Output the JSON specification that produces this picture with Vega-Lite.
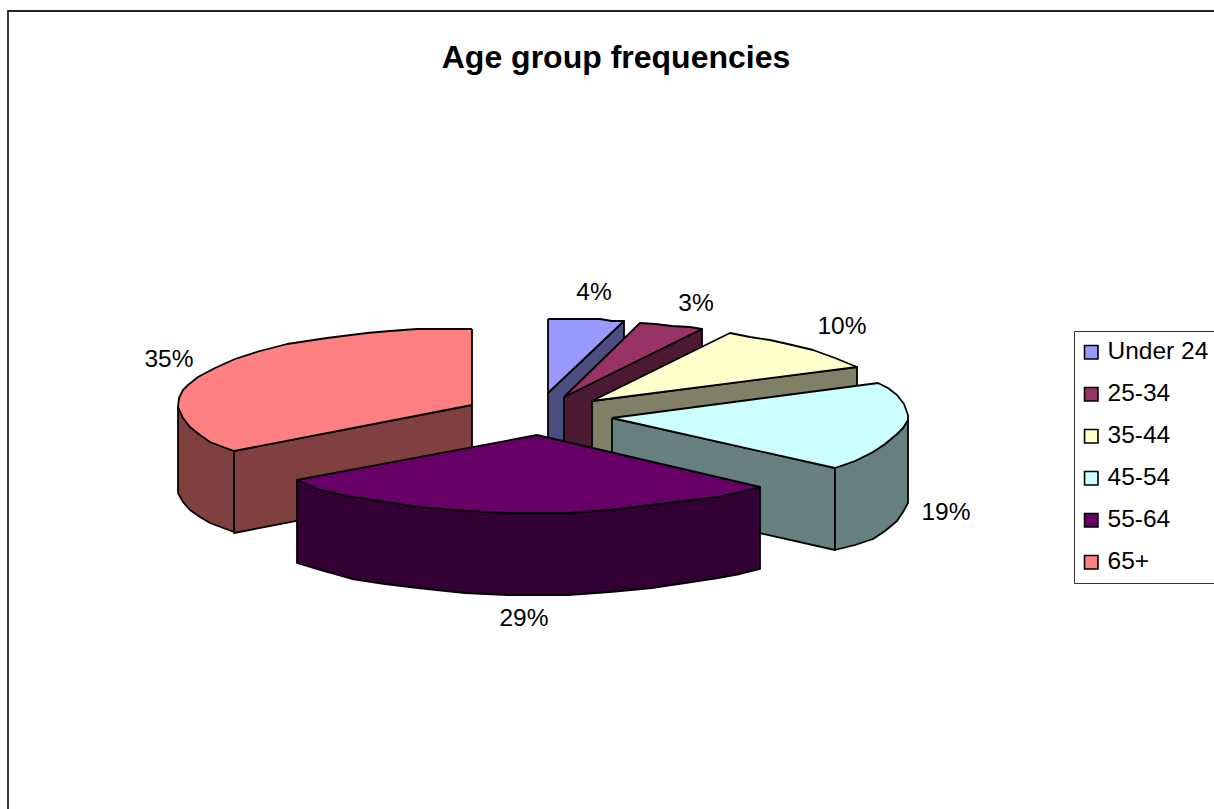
{
"$schema":"https://vega.github.io/schema/vega-lite/v6.json",
"width":1214,"height":809,"padding":0,"autosize":{"type":"none"},"background":"white",
"config":{"view":{"stroke":null},"font":"Liberation Sans"},
"title":{"text":"Age group frequencies","font":"Liberation Sans","fontSize":32,"fontWeight":"bold","color":"black","anchor":"middle","dx":9,"dy":100,"offset":0,"baseline":"alphabetic"},
"datasets":{
"frame":[{"n":1,"x":8,"y":809},{"n":2,"x":8,"y":11},{"n":3,"x":1214,"y":11}],
"labels":[{"age":"Under 24","value":0.04,"x":594,"y":293},{"age":"25-34","value":0.03,"x":696,"y":304},{"age":"35-44","value":0.10,"x":842,"y":327},{"age":"45-54","value":0.19,"x":946,"y":513},{"age":"55-64","value":0.29,"x":524,"y":619},{"age":"65+","value":0.35,"x":169,"y":360}],
"faces":[
{"poly":"a1","face":"Under 24 side","n":1,"x":548,"y":393},{"poly":"a1","face":"Under 24 side","n":2,"x":624,"y":321},{"poly":"a1","face":"Under 24 side","n":3,"x":624,"y":398},{"poly":"a1","face":"Under 24 side","n":4,"x":548,"y":475},{"poly":"a1","face":"Under 24 side","n":5,"x":548,"y":393},
{"poly":"a2","face":"Under 24","n":1,"x":548,"y":319},{"poly":"a2","face":"Under 24","n":2,"x":575,"y":319},{"poly":"a2","face":"Under 24","n":3,"x":600,"y":319},{"poly":"a2","face":"Under 24","n":4,"x":612,"y":321},{"poly":"a2","face":"Under 24","n":5,"x":624,"y":321},{"poly":"a2","face":"Under 24","n":6,"x":548,"y":393},{"poly":"a2","face":"Under 24","n":7,"x":548,"y":319},
{"poly":"b1","face":"25-34 side","n":1,"x":564,"y":397},{"poly":"b1","face":"25-34 side","n":2,"x":702,"y":329},{"poly":"b1","face":"25-34 side","n":3,"x":702,"y":409},{"poly":"b1","face":"25-34 side","n":4,"x":564,"y":478},{"poly":"b1","face":"25-34 side","n":5,"x":564,"y":397},
{"poly":"b2","face":"25-34","n":1,"x":564,"y":397},{"poly":"b2","face":"25-34","n":2,"x":640,"y":323},{"poly":"b2","face":"25-34","n":3,"x":655,"y":324},{"poly":"b2","face":"25-34","n":4,"x":672,"y":326},{"poly":"b2","face":"25-34","n":5,"x":690,"y":327},{"poly":"b2","face":"25-34","n":6,"x":702,"y":329},{"poly":"b2","face":"25-34","n":7,"x":564,"y":397},
{"poly":"c1","face":"35-44 side","n":1,"x":592,"y":401},{"poly":"c1","face":"35-44 side","n":2,"x":857,"y":367},{"poly":"c1","face":"35-44 side","n":3,"x":857,"y":449},{"poly":"c1","face":"35-44 side","n":4,"x":592,"y":483},{"poly":"c1","face":"35-44 side","n":5,"x":592,"y":401},
{"poly":"c2","face":"35-44","n":1,"x":592,"y":401},{"poly":"c2","face":"35-44","n":2,"x":730,"y":333},{"poly":"c2","face":"35-44","n":3,"x":750,"y":337},{"poly":"c2","face":"35-44","n":4,"x":770,"y":340},{"poly":"c2","face":"35-44","n":5,"x":792,"y":345},{"poly":"c2","face":"35-44","n":6,"x":813,"y":350},{"poly":"c2","face":"35-44","n":7,"x":835,"y":358},{"poly":"c2","face":"35-44","n":8,"x":857,"y":367},{"poly":"c2","face":"35-44","n":9,"x":592,"y":401},
{"poly":"d1","face":"45-54 side","n":1,"x":612,"y":418},{"poly":"d1","face":"45-54 side","n":2,"x":835,"y":468},{"poly":"d1","face":"45-54 side","n":3,"x":835,"y":550},{"poly":"d1","face":"45-54 side","n":4,"x":612,"y":500},{"poly":"d1","face":"45-54 side","n":5,"x":612,"y":418},
{"poly":"d2","face":"45-54 side","n":1,"x":835,"y":468},{"poly":"d2","face":"45-54 side","n":2,"x":855,"y":461},{"poly":"d2","face":"45-54 side","n":3,"x":873,"y":452},{"poly":"d2","face":"45-54 side","n":4,"x":885,"y":444},{"poly":"d2","face":"45-54 side","n":5,"x":897,"y":434},{"poly":"d2","face":"45-54 side","n":6,"x":903,"y":428},{"poly":"d2","face":"45-54 side","n":7,"x":908,"y":420},{"poly":"d2","face":"45-54 side","n":8,"x":908,"y":503},{"poly":"d2","face":"45-54 side","n":9,"x":903,"y":512},{"poly":"d2","face":"45-54 side","n":10,"x":897,"y":521},{"poly":"d2","face":"45-54 side","n":11,"x":885,"y":531},{"poly":"d2","face":"45-54 side","n":12,"x":873,"y":539},{"poly":"d2","face":"45-54 side","n":13,"x":855,"y":545},{"poly":"d2","face":"45-54 side","n":14,"x":835,"y":550},{"poly":"d2","face":"45-54 side","n":15,"x":835,"y":468},
{"poly":"d3","face":"45-54","n":1,"x":612,"y":418},{"poly":"d3","face":"45-54","n":2,"x":878,"y":383},{"poly":"d3","face":"45-54","n":3,"x":888,"y":388},{"poly":"d3","face":"45-54","n":4,"x":897,"y":395},{"poly":"d3","face":"45-54","n":5,"x":904,"y":404},{"poly":"d3","face":"45-54","n":6,"x":908,"y":415},{"poly":"d3","face":"45-54","n":7,"x":908,"y":420},{"poly":"d3","face":"45-54","n":8,"x":903,"y":428},{"poly":"d3","face":"45-54","n":9,"x":897,"y":434},{"poly":"d3","face":"45-54","n":10,"x":885,"y":444},{"poly":"d3","face":"45-54","n":11,"x":873,"y":452},{"poly":"d3","face":"45-54","n":12,"x":855,"y":461},{"poly":"d3","face":"45-54","n":13,"x":835,"y":468},{"poly":"d3","face":"45-54","n":14,"x":612,"y":418},
{"poly":"f1","face":"65+ side","n":1,"x":234,"y":451},{"poly":"f1","face":"65+ side","n":2,"x":472,"y":405},{"poly":"f1","face":"65+ side","n":3,"x":472,"y":487},{"poly":"f1","face":"65+ side","n":4,"x":234,"y":533},{"poly":"f1","face":"65+ side","n":5,"x":234,"y":451},
{"poly":"f2","face":"65+ side","n":1,"x":178,"y":407},{"poly":"f2","face":"65+ side","n":2,"x":178,"y":493},{"poly":"f2","face":"65+ side","n":3,"x":183,"y":502},{"poly":"f2","face":"65+ side","n":4,"x":190,"y":510},{"poly":"f2","face":"65+ side","n":5,"x":200,"y":517},{"poly":"f2","face":"65+ side","n":6,"x":210,"y":523},{"poly":"f2","face":"65+ side","n":7,"x":234,"y":532},{"poly":"f2","face":"65+ side","n":8,"x":234,"y":451},{"poly":"f2","face":"65+ side","n":9,"x":210,"y":442},{"poly":"f2","face":"65+ side","n":10,"x":190,"y":427},{"poly":"f2","face":"65+ side","n":11,"x":183,"y":418},{"poly":"f2","face":"65+ side","n":12,"x":178,"y":407},
{"poly":"f3","face":"65+","n":1,"x":472,"y":329},{"poly":"f3","face":"65+","n":2,"x":417,"y":329},{"poly":"f3","face":"65+","n":3,"x":390,"y":331},{"poly":"f3","face":"65+","n":4,"x":367,"y":333},{"poly":"f3","face":"65+","n":5,"x":327,"y":338},{"poly":"f3","face":"65+","n":6,"x":287,"y":344},{"poly":"f3","face":"65+","n":7,"x":260,"y":351},{"poly":"f3","face":"65+","n":8,"x":235,"y":359},{"poly":"f3","face":"65+","n":9,"x":215,"y":368},{"poly":"f3","face":"65+","n":10,"x":198,"y":377},{"poly":"f3","face":"65+","n":11,"x":188,"y":385},{"poly":"f3","face":"65+","n":12,"x":183,"y":390},{"poly":"f3","face":"65+","n":13,"x":179,"y":398},{"poly":"f3","face":"65+","n":14,"x":178,"y":407},{"poly":"f3","face":"65+","n":15,"x":183,"y":418},{"poly":"f3","face":"65+","n":16,"x":190,"y":427},{"poly":"f3","face":"65+","n":17,"x":200,"y":435},{"poly":"f3","face":"65+","n":18,"x":210,"y":442},{"poly":"f3","face":"65+","n":19,"x":234,"y":451},{"poly":"f3","face":"65+","n":20,"x":472,"y":405},{"poly":"f3","face":"65+","n":21,"x":472,"y":329},
{"poly":"e1","face":"55-64 side","n":1,"x":297,"y":480},{"poly":"e1","face":"55-64 side","n":2,"x":297,"y":563},{"poly":"e1","face":"55-64 side","n":3,"x":320,"y":570},{"poly":"e1","face":"55-64 side","n":4,"x":352,"y":579},{"poly":"e1","face":"55-64 side","n":5,"x":385,"y":584},{"poly":"e1","face":"55-64 side","n":6,"x":418,"y":588},{"poly":"e1","face":"55-64 side","n":7,"x":465,"y":593},{"poly":"e1","face":"55-64 side","n":8,"x":508,"y":595},{"poly":"e1","face":"55-64 side","n":9,"x":568,"y":595},{"poly":"e1","face":"55-64 side","n":10,"x":610,"y":592},{"poly":"e1","face":"55-64 side","n":11,"x":652,"y":588},{"poly":"e1","face":"55-64 side","n":12,"x":685,"y":583},{"poly":"e1","face":"55-64 side","n":13,"x":718,"y":578},{"poly":"e1","face":"55-64 side","n":14,"x":740,"y":574},{"poly":"e1","face":"55-64 side","n":15,"x":760,"y":569},{"poly":"e1","face":"55-64 side","n":16,"x":760,"y":487},{"poly":"e1","face":"55-64 side","n":17,"x":652,"y":505},{"poly":"e1","face":"55-64 side","n":18,"x":508,"y":513},{"poly":"e1","face":"55-64 side","n":19,"x":297,"y":480},
{"poly":"e2","face":"55-64","n":1,"x":537,"y":435},{"poly":"e2","face":"55-64","n":2,"x":760,"y":487},{"poly":"e2","face":"55-64","n":3,"x":740,"y":492},{"poly":"e2","face":"55-64","n":4,"x":718,"y":497},{"poly":"e2","face":"55-64","n":5,"x":685,"y":501},{"poly":"e2","face":"55-64","n":6,"x":652,"y":505},{"poly":"e2","face":"55-64","n":7,"x":610,"y":510},{"poly":"e2","face":"55-64","n":8,"x":568,"y":513},{"poly":"e2","face":"55-64","n":9,"x":508,"y":513},{"poly":"e2","face":"55-64","n":10,"x":465,"y":511},{"poly":"e2","face":"55-64","n":11,"x":418,"y":507},{"poly":"e2","face":"55-64","n":12,"x":385,"y":502},{"poly":"e2","face":"55-64","n":13,"x":352,"y":497},{"poly":"e2","face":"55-64","n":14,"x":320,"y":490},{"poly":"e2","face":"55-64","n":15,"x":297,"y":480},{"poly":"e2","face":"55-64","n":16,"x":537,"y":435}
]},
"layer":[
{"data":{"name":"frame"},"mark":{"type":"line","stroke":"#222222","strokeWidth":1.8,"clip":false},
 "encoding":{"x":{"field":"x","type":"quantitative","scale":{"domain":[0,1214]},"axis":null},"y":{"field":"y","type":"quantitative","scale":{"domain":[809,0]},"axis":null},"order":{"field":"n","type":"quantitative"}}},
{"data":{"name":"faces"},"mark":{"type":"line","stroke":"black","strokeWidth":1.8,"strokeJoin":"round"},
 "encoding":{
  "x":{"field":"x","type":"quantitative","scale":{"domain":[0,1214]},"axis":null},
  "y":{"field":"y","type":"quantitative","scale":{"domain":[809,0]},"axis":null},
  "order":{"field":"n","type":"quantitative"},
  "detail":{"field":"poly"},
  "fill":{"field":"face","type":"nominal","sort":null,
   "scale":{"domain":["Under 24","25-34","35-44","45-54","55-64","65+","Under 24 side","25-34 side","35-44 side","45-54 side","55-64 side","65+ side"],
    "range":["#9999FF","#993366","#FFFFCC","#CCFFFF","#660066","#FF8080","#4D4D80","#4D1A33","#808066","#668080","#330033","#804040"]},
   "legend":{"title":null,"orient":"none","legendX":1074,"legendY":331,"values":["Under 24","25-34","35-44","45-54","55-64","65+"],"symbolType":"square","symbolSize":180,"symbolOffset":-4,"symbolStrokeColor":"black","symbolStrokeWidth":1.6,"labelFont":"Liberation Sans","labelFontSize":24.5,"labelColor":"black","rowPadding":17,"padding":9,"strokeColor":"#333333","fillColor":"white","labelOffset":4,"labelLimit":200}}
 }},
{"data":{"name":"labels"},"mark":{"type":"text","font":"Liberation Sans","fontSize":24.5,"color":"black","align":"center","baseline":"middle"},
 "encoding":{"x":{"field":"x","type":"quantitative","scale":{"domain":[0,1214]},"axis":null},"y":{"field":"y","type":"quantitative","scale":{"domain":[809,0]},"axis":null},"text":{"field":"value","type":"quantitative","format":".0%"}}}
]
}
